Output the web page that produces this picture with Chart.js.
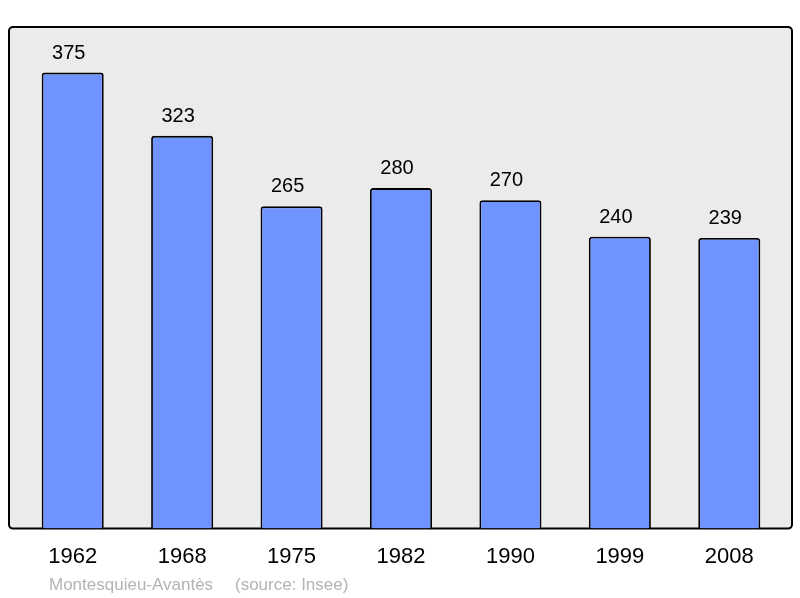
<!DOCTYPE html>
<html>
<head>
<meta charset="utf-8">
<script src="https://cdn.jsdelivr.net/npm/chart.js@4/dist/chart.umd.min.js"></script>
<style>
  html, body { margin: 0; padding: 0; background: #fff; }
  canvas { display: block; }
</style>
</head>
<body>
<canvas id="chart" width="800" height="598"></canvas>
<script>
const years = ['1962', '1968', '1975', '1982', '1990', '1999', '2008'];
const population = [375, 323, 265, 280, 270, 240, 239];
const yMax = 412.5;

// grey frame behind the bars
const framePlugin = {
    id: 'frame',
    beforeDatasetsDraw(chart) {
        const ctx = chart.ctx;
        const area = chart.chartArea;
        ctx.save();
        ctx.beginPath();
        ctx.roundRect(9, area.top, 783, area.bottom - area.top, 4);
        ctx.fillStyle = '#ebebeb';
        ctx.fill();
        ctx.lineWidth = 2;
        ctx.strokeStyle = '#000';
        ctx.stroke();
        ctx.restore();
    },
    afterDraw(chart) {
        const ctx = chart.ctx;
        ctx.save();
        ctx.font = '17px "Liberation Sans", Arial, sans-serif';
        ctx.fillStyle = '#b3b3b3';
        ctx.textBaseline = 'alphabetic';
        ctx.fillText('Montesquieu-Avantès', 49, 590);
        ctx.fillText('(source: Insee)', 235, 590);
        ctx.restore();
    }
};

// numbers above each bar (slightly left of the bar centre, as in the original)
const valuePlugin = {
    id: 'values',
    afterDatasetsDraw(chart) {
        const ctx = chart.ctx;
        const meta = chart.getDatasetMeta(0);
        ctx.save();
        ctx.font = '20px "Liberation Sans", Arial, sans-serif';
        ctx.fillStyle = '#000';
        ctx.textAlign = 'center';
        ctx.textBaseline = 'alphabetic';
        meta.data.forEach((bar, i) => {
            ctx.fillText(String(population[i]), bar.x - 4, bar.y - 14);
        });
        ctx.restore();
    }
};

new Chart(document.getElementById('chart'), {
    type: 'bar',
    data: {
        labels: years,
        datasets: [{
            data: population,
            backgroundColor: '#7094ff',
            borderColor: '#000',
            borderWidth: 1.8,
            borderRadius: { topLeft: 3, topRight: 3 },
            borderSkipped: 'bottom',
            barPercentage: 0.567,
            categoryPercentage: 1
        }]
    },
    options: {
        responsive: false,
        animation: false,
        devicePixelRatio: 1,
        layout: { padding: { left: 18, right: 16, top: 27, bottom: 21 } },
        plugins: {
            legend: { display: false },
            tooltip: { enabled: false },
            title: { display: false }
        },
        scales: {
            x: {
                grid: { display: false },
                border: { display: false },
                ticks: {
                    color: '#000',
                    padding: 7,
                    autoSkip: false,
                    maxRotation: 0,
                    font: { size: 22, family: '"Liberation Sans", Arial, sans-serif' }
                }
            },
            y: {
                display: false,
                min: 0,
                max: yMax
            }
        }
    },
    plugins: [framePlugin, valuePlugin]
});
</script>
</body>
</html>
